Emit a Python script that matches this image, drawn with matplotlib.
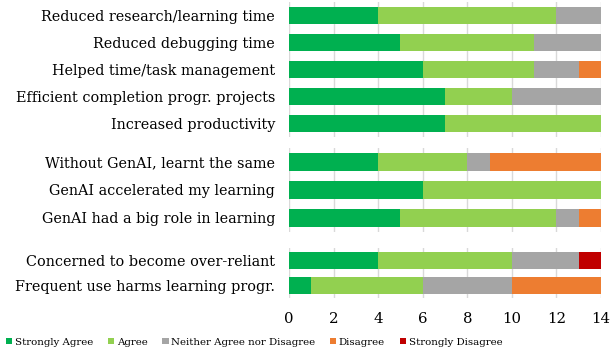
import numpy as np
import matplotlib.pyplot as plt
from matplotlib.patches import Patch

plt.rcParams['font.family'] = ['DejaVu Serif']

# groupes de questions
labels_1 = ['Reduced research/learning time', 'Reduced debugging time',
            'Helped time/task management', 'Efficient completion progr. projects',
            'Increased productivity']
labels_2 = ['Without GenAI, learnt the same', 'GenAI accelerated my learning',
            'GenAI had a big role in learning']
labels_3 = ['Concerned to become over-reliant', 'Frequent use harms learning progr.']

# reponses : Strongly Agree, Agree, Neither, Disagree, Strongly Disagree
data_1 = [[4, 8, 2, 0, 0],
          [5, 6, 3, 0, 0],
          [6, 5, 2, 1, 0],
          [7, 3, 4, 0, 0],
          [7, 7, 0, 0, 0]]
data_2 = [[4, 4, 1, 5, 0],
          [6, 8, 0, 0, 0],
          [5, 7, 1, 1, 0]]
data_3 = [[4, 6, 3, 0, 1],
          [1, 5, 4, 4, 0]]

categories = ['Strongly Agree', 'Agree', 'Neither Agree nor Disagree',
              'Disagree', 'Strongly Disagree']
couleurs = ['#00B050', '#92D050', '#A5A5A5', '#ED7D31', '#C00000']

W, H = 615, 351
fig = plt.figure(figsize=(W / 100, H / 100), dpi=100)

left = 289 / W
width = (601 - 289) / W
# (haut, bas) en pixels
positions = [(2, 137), (148, 232), (248, 298)]
groupes = [(labels_1, data_1), (labels_2, data_2), (labels_3, data_3)]

for i, ((top, bottom), (labels, data)) in enumerate(zip(positions, groupes)):
    ax = fig.add_axes([left, 1 - bottom / H, width, (bottom - top) / H])
    data = np.array(data)
    y = np.arange(len(labels))
    debut = np.zeros(len(labels))
    for k in range(len(categories)):
        ax.barh(y, data[:, k], left=debut, height=0.66, color=couleurs[k], zorder=3)
        debut = debut + data[:, k]
    ax.set_xlim(0, 14)
    ax.set_ylim(len(labels) - 0.5, -0.5)
    ax.set_yticks(y)
    ax.set_yticklabels(labels, fontsize=10.4)
    ax.set_xticks(np.arange(0, 15, 2))
    ax.grid(axis='x', color='#D9D9D9', linewidth=1, zorder=0)
    ax.tick_params(length=0, pad=10)
    for s in ax.spines.values():
        s.set_visible(False)
    if i < 2:
        ax.set_xticklabels([])
    else:
        ax.tick_params(axis='x', labelsize=10.7, pad=10)

handles = [Patch(facecolor=c) for c in couleurs]
fig.legend(handles, categories, loc='lower left', ncol=5, fontsize=7.4,
           frameon=False, bbox_to_anchor=(0.0, -0.005), handlelength=0.6,
           handleheight=0.6, handletextpad=0.25, columnspacing=1.45,
           borderaxespad=0.2)

fig.savefig('out.png', dpi=100)
